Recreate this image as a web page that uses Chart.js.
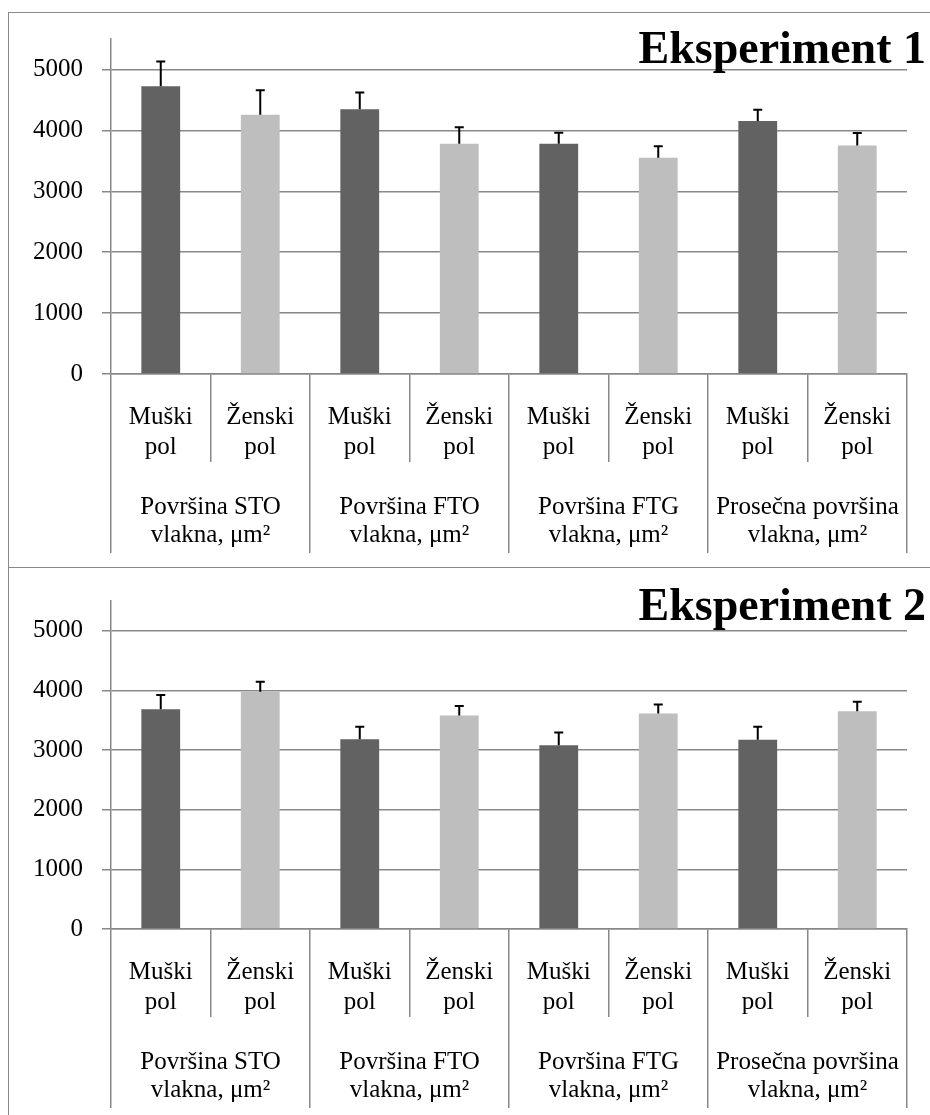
<!DOCTYPE html>
<html>
<head>
<meta charset="utf-8">
<script src="https://cdn.jsdelivr.net/npm/chart.js@4.4.0/dist/chart.umd.min.js"></script>
<style>
  html, body { margin: 0; padding: 0; background: #fff; overflow: hidden; }
  body { width: 930px; height: 1115px; position: relative; }
  .panel { position: absolute; left: 8px; width: 1000px; border: 1.5px solid #8a8a8a; box-sizing: border-box; }
  #p1 { top: 12px; height: 556px; }
  #p2 { top: 567px; height: 600px; }
  canvas { position: absolute; left: 0; }
  #c1 { top: 0; }
  #c2 { top: 567px; }
</style>
</head>
<body>
<div class="panel" id="p1"></div>
<div class="panel" id="p2"></div>
<canvas id="c1" width="930" height="567"></canvas>
<canvas id="c2" width="930" height="548"></canvas>
<script>
// measures (outer level of the x axis) and sexes (inner level)
const groups = [
  ['Površina STO', 'vlakna, μm²'],
  ['Površina FTO', 'vlakna, μm²'],
  ['Površina FTG', 'vlakna, μm²'],
  ['Prosečna površina', 'vlakna, μm²']
];
const sexes = [['Muški', 'pol'], ['Ženski', 'pol']];
const yTicks = [0, 1000, 2000, 3000, 4000, 5000];
const yMax = 5500;

// Eksperiment 1
const musko1 = [4725, 4345, 3780, 4155];
const zensko1 = [4255, 3780, 3550, 3750];
const muskoErr1 = [405, 275, 180, 185];
const zenskoErr1 = [405, 270, 190, 205];

// Eksperiment 2
const musko2 = [3685, 3180, 3080, 3175];
const zensko2 = [3980, 3580, 3615, 3650];
const muskoErr2 = [240, 210, 215, 215];
const zenskoErr2 = [165, 160, 150, 160];

const colorM = '#626262';
const colorZ = '#bebebe';
const lineGray = '#888888';
const serif = '"Liberation Serif", "Times New Roman", serif';

const errorBars = {
  id: 'errorBars',
  afterDatasetsDraw(chart, args, opts) {
    const ctx = chart.ctx;
    const meta = chart.getDatasetMeta(0);
    const vals = chart.data.datasets[0].data;
    const y = chart.scales.y;
    ctx.save();
    ctx.strokeStyle = '#000';
    ctx.lineWidth = 2;
    meta.data.forEach(function(bar, i) {
      const top = y.getPixelForValue(vals[i] + opts.errors[i]);
      ctx.beginPath();
      ctx.moveTo(bar.x, bar.y);
      ctx.lineTo(bar.x, top);
      ctx.moveTo(bar.x - 4.5, top);
      ctx.lineTo(bar.x + 4.5, top);
      ctx.stroke();
    });
    ctx.restore();
  }
};

const panelTitle = {
  id: 'panelTitle',
  afterDraw(chart, args, opts) {
    const ctx = chart.ctx;
    ctx.save();
    ctx.font = 'bold 46px ' + serif;
    ctx.fillStyle = '#000';
    ctx.textAlign = 'right';
    ctx.textBaseline = 'alphabetic';
    ctx.fillText(opts.text, opts.x, opts.y);
    ctx.restore();
  }
};

function makeChart(id, musko, zensko, muskoErr, zenskoErr, title, top, titleY) {
  const canvas = document.getElementById(id);
  const labels = [], values = [], errors = [], colors = [];
  for (let i = 0; i < groups.length; i++) {
    labels.push(sexes[0], sexes[1]);
    values.push(musko[i], zensko[i]);
    errors.push(muskoErr[i], zenskoErr[i]);
    colors.push(colorM, colorZ);
  }
  const plotH = 335;
  const innerH = 88;
  const outerH = canvas.height - top - plotH - innerH;

  return new Chart(canvas.getContext('2d'), {
    type: 'bar',
    data: {
      labels: labels,
      datasets: [{
        data: values,
        backgroundColor: colors,
        borderWidth: 0,
        barPercentage: 0.39,
        categoryPercentage: 1.0
      }]
    },
    options: {
      responsive: false,
      animation: false,
      layout: { padding: { top: top, right: 23, left: 0, bottom: 0 } },
      plugins: {
        legend: { display: false },
        tooltip: { enabled: false },
        errorBars: { errors: errors },
        panelTitle: { text: title, x: 926, y: titleY }
      },
      scales: {
        y: {
          min: 0,
          max: yMax,
          afterBuildTicks: function(s) { s.ticks = yTicks.map(function(v) { return { value: v }; }); },
          afterFit: function(s) { s.width = 111; },
          grid: { color: lineGray, lineWidth: 1.5, tickLength: 9 },
          border: { color: lineGray, width: 1.5 },
          ticks: {
            color: '#000', padding: 19, font: { family: serif, size: 25 },
            callback: function(v) { return String(v); }
          }
        },
        x: {
          offset: true,
          afterFit: function(s) { s.height = innerH; },
          grid: { offset: true, drawOnChartArea: false, color: lineGray, lineWidth: 1.5, tickLength: innerH },
          border: { color: lineGray, width: 1.5 },
          ticks: {
            color: '#000', padding: -59, autoSkip: false, maxRotation: 0,
            font: { family: serif, size: 25, lineHeight: 1.18 }
          }
        },
        x2: {
          type: 'category',
          position: 'bottom',
          labels: groups,
          offset: true,
          afterFit: function(s) { s.height = outerH; },
          grid: { offset: true, drawOnChartArea: false, color: lineGray, lineWidth: 1.5, tickLength: 91 },
          border: { display: false },
          ticks: {
            color: '#000', padding: -60, autoSkip: false, maxRotation: 0,
            font: { family: serif, size: 25, lineHeight: 1.12 }
          }
        }
      }
    },
    plugins: [errorBars, panelTitle]
  });
}

makeChart('c1', musko1, zensko1, muskoErr1, zenskoErr1, 'Eksperiment 1', 39, 63);
makeChart('c2', musko2, zensko2, muskoErr2, zenskoErr2, 'Eksperiment 2', 27, 53);
</script>
</body>
</html>
